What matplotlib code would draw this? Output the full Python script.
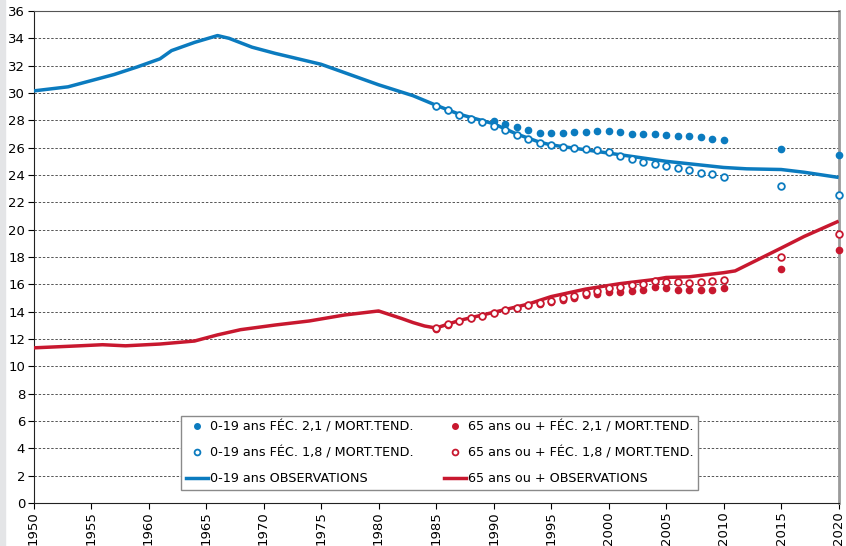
"""
Part des 0-19 ans et des 65 ans ou + dans la population (1950-2020)
Observations + projections (FÉC. 2,1 / 1,8, MORT.TEND.)
"""

import matplotlib
matplotlib.use("Agg")
import matplotlib.pyplot as plt
from matplotlib.patches import Rectangle
from matplotlib.lines import Line2D

BLUE = "#0b7bbf"
RED = "#c8182f"

# ─── Data ─────────────────────────────────────────────────────────────────────
obs_young_years = [1950, 1953, 1955, 1957, 1959, 1961, 1962, 1964, 1966, 1967,
                   1969, 1971, 1973, 1975, 1977, 1980, 1983, 1985, 1987, 1990,
                   1992, 1994, 1995, 2000, 2005, 2010, 2012, 2015, 2017, 2020]
obs_young_vals = [30.15, 30.45, 30.9, 31.35, 31.9, 32.5, 33.1, 33.7, 34.2, 34.0,
                  33.35, 32.9, 32.5, 32.1, 31.5, 30.6, 29.8, 29.1, 28.45, 27.75,
                  27.0, 26.4, 26.2, 25.6, 25.0, 24.55, 24.45, 24.4, 24.2, 23.82]

obs_old_years = [1950, 1954, 1956, 1958, 1961, 1964, 1966, 1968, 1971, 1974,
                 1977, 1980, 1982, 1983, 1984, 1985, 1987, 1990, 1993, 1995,
                 1998, 2001, 2004, 2005, 2007, 2010, 2011, 2015, 2017, 2020]
obs_old_vals = [11.35, 11.5, 11.58, 11.5, 11.63, 11.85, 12.3, 12.68, 13.02, 13.32,
                13.75, 14.05, 13.5, 13.2, 12.95, 12.8, 13.35, 13.95, 14.55, 15.1,
                15.65, 16.05, 16.35, 16.5, 16.55, 16.85, 16.98, 18.65, 19.5, 20.62]

proj_years = list(range(1985, 2011)) + [2015, 2020]

young_fec21 = [29.07, 28.73, 28.41, 28.12, 27.88, 27.93, 27.71, 27.49, 27.27, 27.07,
               27.05, 27.05, 27.15, 27.17, 27.22, 27.22, 27.15, 27.02, 26.98, 26.98,
               26.93, 26.88, 26.83, 26.76, 26.63, 26.54, 25.9, 25.46]
young_fec18 = [29.07, 28.73, 28.41, 28.12, 27.88, 27.61, 27.29, 26.95, 26.63, 26.34,
               26.17, 26.07, 26.0, 25.9, 25.83, 25.66, 25.41, 25.17, 24.98, 24.83,
               24.66, 24.51, 24.34, 24.17, 24.05, 23.88, 23.17, 22.56]

old_fec21 = [12.76, 13.05, 13.31, 13.51, 13.68, 13.9, 14.11, 14.26, 14.46, 14.59,
             14.73, 14.88, 15.02, 15.22, 15.32, 15.41, 15.46, 15.51, 15.61, 15.8,
             15.71, 15.61, 15.61, 15.56, 15.61, 15.71, 17.12, 18.51]
old_fec18 = [12.78, 13.07, 13.34, 13.54, 13.71, 13.93, 14.15, 14.29, 14.51, 14.66,
             14.8, 15.0, 15.12, 15.37, 15.51, 15.71, 15.8, 15.93, 16.02, 16.24,
             16.15, 16.15, 16.1, 16.15, 16.24, 16.34, 18.0, 19.68]

x_ticks = list(range(1950, 2021, 5))
y_ticks = list(range(0, 37, 2))

legend_labels = [
    "0-19 ans FÉC. 2,1 / MORT.TEND.",
    "0-19 ans FÉC. 1,8 / MORT.TEND.",
    "0-19 ans OBSERVATIONS",
    "65 ans ou + FÉC. 2,1 / MORT.TEND.",
    "65 ans ou + FÉC. 1,8 / MORT.TEND.",
    "65 ans ou + OBSERVATIONS",
]


# ─── Figure ───────────────────────────────────────────────────────────────────
fig = plt.figure(figsize=(8.46, 5.46), dpi=100)
fig.add_artist(Rectangle((0, 0), 5 / 846, 1, transform=fig.transFigure,
                         color="#e4e5e7", zorder=0))
ax = fig.add_axes([0.0396, 0.0788, 0.9517, 0.9011])

# observations (lines)
ax.plot(obs_young_years, obs_young_vals, color=BLUE, lw=2.5, zorder=3,
        solid_capstyle="butt")
ax.plot(obs_old_years, obs_old_vals, color=RED, lw=2.5, zorder=3,
        solid_capstyle="butt")

# projections (dots)
dot = dict(ls="none", marker="o", ms=4.5, zorder=4, clip_on=False)
ring = dict(ls="none", marker="o", ms=4.8, mfc="white", mew=1.3, zorder=5,
            clip_on=False)
ax.plot(proj_years, young_fec21, color=BLUE, mec=BLUE, **dot)
ax.plot(proj_years, young_fec18, mec=BLUE, **ring)
ax.plot(proj_years, old_fec21, color=RED, mec=RED, **dot)
ax.plot(proj_years, old_fec18, mec=RED, **ring)

# ─── Axes styling ─────────────────────────────────────────────────────────────
ax.set_xlim(1950, 2020)
ax.set_ylim(0, 36)
ax.set_xticks(x_ticks)
ax.set_yticks(y_ticks)
ax.tick_params(axis="x", labelrotation=90, labelsize=9.5, length=4,
               width=0.8, pad=2)
ax.tick_params(axis="y", labelsize=9.5, length=4, width=0.8, pad=2)

ax.grid(axis="y", color="#555555", lw=0.7, linestyle=(0, (2.5, 1.8)))
ax.set_axisbelow(True)

for side in ("left", "bottom"):
    ax.spines[side].set_color("#222222")
    ax.spines[side].set_linewidth(0.8)
ax.spines["top"].set_color("#555555")
ax.spines["top"].set_linewidth(0.8)
ax.spines["right"].set_color("#9a9a9a")
ax.spines["right"].set_linewidth(2.0)

# ─── Legend ───────────────────────────────────────────────────────────────────
handles = [
    Line2D([], [], ls="none", marker="o", ms=4, color=BLUE),
    Line2D([], [], ls="none", marker="o", ms=4.2, mfc="white", mec=BLUE, mew=1.3),
    Line2D([], [], color=BLUE, lw=2.5),
    Line2D([], [], ls="none", marker="o", ms=4, color=RED),
    Line2D([], [], ls="none", marker="o", ms=4.2, mfc="white", mec=RED, mew=1.3),
    Line2D([], [], color=RED, lw=2.5),
]
leg = ax.legend(handles, legend_labels, ncol=2, loc="lower left",
                bbox_to_anchor=(0.1832, 0.0256), borderaxespad=0,
                fontsize=9.2, frameon=True, fancybox=False,
                edgecolor="#8a8a8a", framealpha=1,
                handlelength=1.75, handletextpad=0.1, columnspacing=2.4,
                labelspacing=1.0, borderpad=0.4)
leg.get_frame().set_linewidth(1.0)

fig.savefig("out.png", dpi=100)
